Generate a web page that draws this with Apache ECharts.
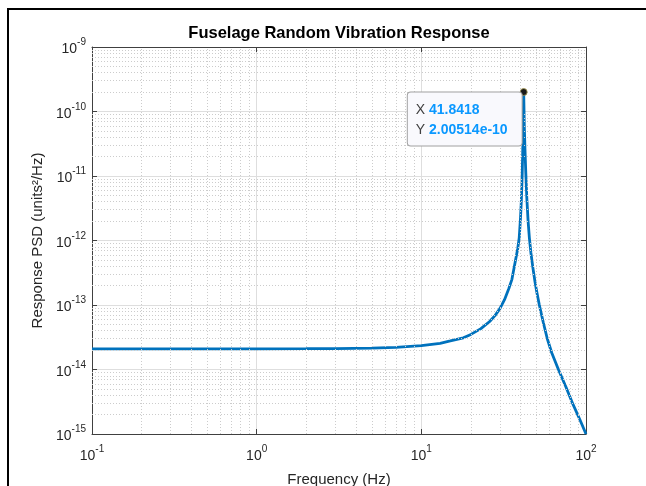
<!DOCTYPE html>
<html>
<head>
<meta charset="utf-8">
<script src="https://cdn.jsdelivr.net/npm/echarts@6/dist/echarts.min.js"></script>
<style>
  html, body { margin: 0; padding: 0; background: #fff; }
  #chart { width: 646px; height: 486px; }
</style>
</head>
<body>
<div id="chart"></div>
<script>
// frequency (Hz) and response PSD
const freq = [0.1, 0.2, 0.5, 1, 2, 3, 5, 7, 10, 13, 15, 18, 20, 23, 26, 28, 30, 32, 34, 35.5,
  37, 38.5, 39.3, 40, 40.5, 41, 41.4, 41.65, 41.8418, 42.2, 42.6, 43.1, 43.7, 44.5, 45.3, 46.3,
  47.5, 49, 50, 52, 55, 58.2, 62, 68, 75, 83.8, 92, 100];
const psd = [2.09e-14, 2.09e-14, 2.09e-14, 2.09e-14, 2.10e-14, 2.11e-14, 2.15e-14, 2.2e-14,
  2.35e-14, 2.55e-14, 2.77e-14, 3.1e-14, 3.5e-14, 4.3e-14, 5.55e-14, 6.85e-14, 8.8e-14,
  1.21e-13, 1.8e-13, 2.5e-13, 4.4e-13, 7.5e-13, 1.1e-12, 2.2e-12, 4.2e-12, 1.1e-11, 3.5e-11,
  8e-11, 2.00514e-10, 6e-11, 2.6e-11, 1.1e-11, 4.6e-12, 2.0e-12, 1.1e-12, 6.4e-13,
  3.9e-13, 2.3e-13, 1.7e-13, 1.02e-13, 5.4e-14, 3.0e-14, 1.8e-14, 1.0e-14, 5.6e-15,
  2.8e-15, 1.65e-15, 1.0e-15];

const xTicks = [0.1, 1, 10, 100];
const yTicks = [1e-15, 1e-14, 1e-13, 1e-12, 1e-11, 1e-10, 1e-9];

const FONT = "'Liberation Sans', Arial, Helvetica, sans-serif";
const AXIS_COLOR = "#262626";

const xMin = xTicks[0], xMax = xTicks[xTicks.length - 1];
const yMin = yTicks[0], yMax = yTicks[yTicks.length - 1];

// minor grid values 2..9 inside each decade
function minorsOf(ticks) {
  const out = [];
  for (let i = 0; i < ticks.length - 1; i++) {
    for (let k = 2; k <= 9; k++) out.push(k * ticks[i]);
  }
  return out;
}

function pow10Label(v) {
  const e = Math.round(Math.log10(v));
  return "{b|10}{s|" + e + "}";
}

const labelRich = {
  b: { fontSize: 14, color: AXIS_COLOR, fontFamily: FONT, verticalAlign: "bottom" },
  s: { fontSize: 10, color: AXIS_COLOR, fontFamily: FONT, verticalAlign: "bottom", padding: [0, 0, 9, 0] },
};

// data tip at the peak
let peakIdx = 0;
psd.forEach((v, i) => { if (v > psd[peakIdx]) peakIdx = i; });
const peakF = freq[peakIdx];
const peakP = psd[peakIdx];

const chart = echarts.init(document.getElementById("chart"), null, { renderer: "canvas" });

const baseX = {
  type: "log",
  logBase: 10,
  min: xMin,
  max: xMax,
  splitNumber: xTicks.length - 1,
  axisLine: { show: true, lineStyle: { color: "#404040", width: 1 } },
  axisTick: { show: true, inside: true, length: 5, lineStyle: { color: "#404040" } },
};
const baseY = {
  type: "log",
  logBase: 10,
  min: yMin,
  max: yMax,
  splitNumber: yTicks.length - 1,
  axisLine: { show: true, lineStyle: { color: "#404040", width: 1 } },
  axisTick: { show: true, inside: true, length: 5, lineStyle: { color: "#404040" } },
};

chart.setOption({
  animation: false,
  title: {
    text: "Fuselage Random Vibration Response",
    left: 339,
    top: 25,
    padding: 0,
    textAlign: "center",
    textStyle: { fontFamily: FONT, fontSize: 16.5, fontWeight: "bold", color: "#000" },
  },
  grid: { left: 92, right: 60, top: 47, bottom: 52, outerBoundsMode: "none", containLabel: false },
  xAxis: [
    Object.assign({}, baseX, {
      position: "bottom",
      name: "Frequency (Hz)",
      nameLocation: "middle",
      nameGap: 38,
      nameTextStyle: { fontFamily: FONT, fontSize: 15, color: AXIS_COLOR },
      axisLabel: { formatter: pow10Label, rich: labelRich, margin: 10 },
      splitLine: { show: true, lineStyle: { color: "#dedede", width: 1 } },
    }),
    Object.assign({}, baseX, {
      position: "top",
      axisLabel: { show: false },
      splitLine: { show: false },
    }),
  ],
  yAxis: [
    Object.assign({}, baseY, {
      position: "left",
      name: "Response PSD (units²/Hz)",
      nameLocation: "middle",
      nameGap: 46,
      nameTextStyle: { fontFamily: FONT, fontSize: 15, color: AXIS_COLOR },
      axisLabel: { formatter: pow10Label, rich: labelRich, margin: 6 },
      splitLine: { show: true, lineStyle: { color: "#dedede", width: 1 } },
    }),
    Object.assign({}, baseY, {
      position: "right",
      axisLabel: { show: false },
      splitLine: { show: false },
    }),
  ],
  graphic: [
    {
      type: "rect",
      shape: { x: 8, y: 9, width: 700, height: 600 },
      style: { fill: "none", stroke: "#000", lineWidth: 2 },
      silent: true,
    },
  ],
  series: [
    {
      // minor grid
      type: "line",
      data: [],
      silent: true,
      z: 1,
      markLine: {
        silent: true,
        symbol: "none",
        label: { show: false },
        lineStyle: { type: [1, 2], color: "#cccccc", width: 1 },
        data: [
          ...minorsOf(xTicks).map((v) => [{ coord: [v, yMin] }, { coord: [v, yMax] }]),
          ...minorsOf(yTicks).map((v) => [{ coord: [xMin, v] }, { coord: [xMax, v] }]),
        ],
      },
    },
    {
      type: "line",
      data: freq.map((f, i) => [f, psd[i]]),
      showSymbol: false,
      smooth: false,
      z: 3,
      lineStyle: { color: "#0072BD", width: 2.8 },
      itemStyle: { color: "#0072BD" },
      markPoint: {
        silent: true,
        symbol: "circle",
        symbolSize: 7,
        itemStyle: { color: "#1a1a1a", borderColor: "#a89a50", borderWidth: 0.8 },
        data: [{ coord: [peakF, peakP] }],
        label: {
          show: true,
          position: [-112, 4.5],
          align: "left",
          verticalAlign: "top",
          backgroundColor: "#f9f9fd",
          borderColor: "#a0a0a0",
          borderWidth: 1,
          borderRadius: 3,
          padding: [8, 14, 5, 8],
          lineHeight: 20,
          formatter: () =>
            "{k|X }{v|" + peakF.toPrecision(6) + "}\n{k|Y }{v|" + peakP.toPrecision(6) + "}",
          rich: {
            k: { fontFamily: FONT, fontSize: 14, color: "#404040", lineHeight: 20 },
            v: { fontFamily: FONT, fontSize: 14, fontWeight: "bold", color: "#0a98ff", lineHeight: 20 },
          },
        },
      },
    },
  ],
});

window.addEventListener("resize", () => chart.resize());
</script>
</body>
</html>
